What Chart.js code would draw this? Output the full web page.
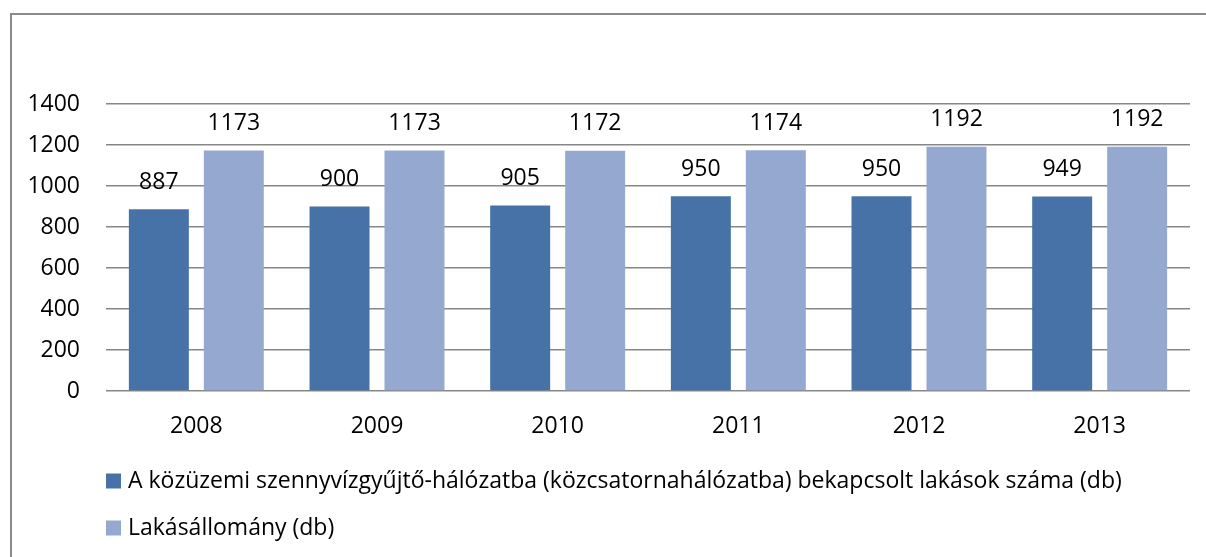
<!DOCTYPE html>
<html>
<head>
<meta charset="utf-8">
<script src="https://cdn.jsdelivr.net/npm/chart.js@4.4.1/dist/chart.umd.min.js"></script>
<style>
  html, body { margin: 0; padding: 0; background: #fff; }
  #wrap { width: 1206px; height: 557px; position: relative; }
</style>
</head>
<body>
<div id="wrap"><canvas id="myChart" width="1206" height="557"></canvas></div>
<script>
'use strict';
// data
const years = ['2008', '2009', '2010', '2011', '2012', '2013'];
const connected = [887, 900, 905, 950, 950, 949];
const housing = [1173, 1173, 1172, 1174, 1192, 1192];
const seriesNames = [
  'A közüzemi szennyvízgyűjtő-hálózatba (közcsatornahálózatba) bekapcsolt lakások száma (db)',
  'Lakásállomány (db)'
];
const yTicks = [0, 200, 400, 600, 800, 1000, 1200, 1400];

const FONT = '"Open Sans", Lato, sans-serif';
const SIZE = 23;

//////////////////////////////////////////

// grey frame round the chart (top and left edge only show)
const framePlugin = {
  id: 'frame',
  beforeDraw(chart) {
    const ctx = chart.ctx;
    ctx.save();
    ctx.strokeStyle = '#8a8a8a';
    ctx.lineWidth = 2;
    ctx.beginPath();
    ctx.moveTo(11, 557);
    ctx.lineTo(11, 14);
    ctx.lineTo(1206, 14);
    ctx.stroke();
    ctx.restore();
  }
};

// value labels over the bars
const valueLabels = {
  id: 'valueLabels',
  afterDatasetsDraw(chart) {
    const ctx = chart.ctx;
    ctx.save();
    ctx.font = SIZE + 'px ' + FONT;
    ctx.fillStyle = '#000';
    ctx.textAlign = 'center';
    ctx.textBaseline = 'middle';
    chart.data.datasets.forEach((ds, i) => {
      chart.getDatasetMeta(i).data.forEach((bar, j) => {
        ctx.fillText(String(ds.data[j]), bar.x, bar.y - 27);
      });
    });
    ctx.restore();
  }
};

// legend, one row per series, under the axis
const legendRows = {
  id: 'legendRows',
  afterDraw(chart) {
    const ctx = chart.ctx;
    const rowsY = [481, 528];
    ctx.save();
    ctx.font = SIZE + 'px ' + FONT;
    ctx.textBaseline = 'middle';
    chart.data.datasets.forEach((ds, i) => {
      const y = rowsY[i];
      ctx.fillStyle = ds.backgroundColor;
      ctx.fillRect(106, y - 7.5, 15, 15);
      ctx.fillStyle = '#000';
      ctx.fillText(ds.label, 128, y);
    });
    ctx.restore();
  }
};

let context = document.getElementById('myChart').getContext('2d');
let chart = new Chart(context, {
  type: 'bar',
  data: {
    labels: years,
    datasets: [{
      label: seriesNames[0],
      backgroundColor: '#4672a8',
      data: connected
    },
    {
      label: seriesNames[1],
      backgroundColor: '#95a9d0',
      data: housing
    }]
  },
  options: {
    responsive: false,
    animation: false,
    events: [],
    layout: { padding: { left: 10, right: 16, top: 104, bottom: 116 } },
    categoryPercentage: 0.83,
    barPercentage: 0.8,
    plugins: {
      legend: { display: false },
      tooltip: { enabled: false }
    },
    scales: {
      x: {
        grid: { display: false, drawTicks: false },
        border: { display: false },
        ticks: { color: '#000', font: { family: FONT, size: SIZE }, padding: 22 },
        afterFit(scale) { scale.height = 50; }
      },
      y: {
        min: 0,
        max: 1400,
        afterBuildTicks(scale) { scale.ticks = yTicks.map(v => ({ value: v })); },
        grid: { color: '#878787', lineWidth: 1.5, drawTicks: false },
        border: { display: false },
        ticks: {
          color: '#000',
          font: { family: FONT, size: SIZE },
          padding: 26,
          callback: v => String(v)
        },
        afterFit(scale) { scale.width = 96; }
      }
    }
  },
  plugins: [framePlugin, valueLabels, legendRows]
});
</script>
</body>
</html>
